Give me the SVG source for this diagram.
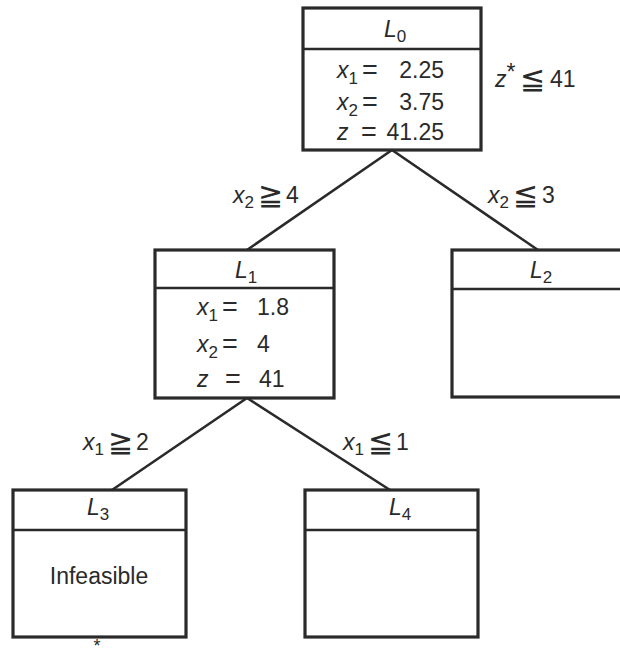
<svg xmlns="http://www.w3.org/2000/svg" width="620" height="656" viewBox="0 0 620 656">
<style>
.box{fill:none;stroke:#2a2a2a;stroke-width:3.2}
.div{stroke:#2a2a2a;stroke-width:2.4}
.edge{stroke:#2a2a2a;stroke-width:2.6;fill:none}
text{font-family:"Liberation Sans","DejaVu Sans",sans-serif;font-size:23px;fill:#2a2a2a}
.v{font-style:italic}
.s{font-size:17px;font-style:normal}
.eq{font-size:27px}
.sym{font-family:"DejaVu Sans",sans-serif;font-size:30px}
.c{text-anchor:middle}
.e{text-anchor:end}
</style>
<rect width="620" height="656" fill="#fff"/>
<g id="connectors">
<path class="edge" d="M392,150 L247,250 M392,150 L538,250"/>
<path class="edge" d="M247,398 L112,490 M247,398 L390,490"/>
</g>
<g id="L0">
<rect class="box" x="303" y="8" width="178" height="142"/>
<line class="div" x1="303" y1="49" x2="481" y2="49"/>
<text x="384" y="37" class="v">L<tspan class="s" dy="5">0</tspan></text>
<text x="337" y="78" class="v">x<tspan class="s" dy="6">1</tspan></text>
<text x="362" y="79" class="eq">=</text>
<text x="444" y="78" class="e">2.25</text>
<text x="337" y="110" class="v">x<tspan class="s" dy="6">2</tspan></text>
<text x="362" y="111" class="eq">=</text>
<text x="444" y="110" class="e">3.75</text>
<text x="337" y="140" class="v">z</text>
<text x="361" y="141" class="eq">=</text>
<text x="444" y="140" class="e">41.25</text>
</g>
<g id="bound">
<text x="495" y="87" class="v">z<tspan style="font-style:normal" dy="-7">*</tspan></text>
<text x="520" y="89" class="sym">≦</text>
<text x="550" y="87">41</text>
</g>
<g id="L1">
<rect class="box" x="155" y="250" width="179" height="148"/>
<line class="div" x1="155" y1="288" x2="334" y2="288"/>
<text x="235" y="278" class="v">L<tspan class="s" dy="5">1</tspan></text>
<text x="197" y="315" class="v">x<tspan class="s" dy="6">1</tspan></text>
<text x="222" y="316" class="eq">=</text>
<text x="257" y="315">1.8</text>
<text x="197" y="352" class="v">x<tspan class="s" dy="6">2</tspan></text>
<text x="222" y="353" class="eq">=</text>
<text x="257" y="352">4</text>
<text x="197" y="387" class="v">z</text>
<text x="225" y="388" class="eq">=</text>
<text x="259" y="387">41</text>
</g>
<g id="L2">
<rect class="box" x="452" y="250" width="179" height="147"/>
<line class="div" x1="452" y1="289" x2="631" y2="289"/>
<text x="530" y="278" class="v">L<tspan class="s" dy="5">2</tspan></text>
</g>
<g id="L3">
<rect class="box" x="13" y="490" width="173" height="147"/>
<line class="div" x1="13" y1="530" x2="186" y2="530"/>
<text x="87" y="515" class="v">L<tspan class="s" dy="5">3</tspan></text>
<text x="99" y="584" class="c">Infeasible</text>
<text x="97" y="652" class="c" style="font-size:18px">*</text>
</g>
<g id="L4">
<rect class="box" x="305" y="490" width="173" height="147"/>
<line class="div" x1="305" y1="530" x2="478" y2="530"/>
<text x="389" y="515" class="v">L<tspan class="s" dy="5">4</tspan></text>
</g>
<g id="labels">
<text x="233" y="203" class="v">x<tspan class="s" dy="5">2</tspan></text>
<text x="258" y="205" class="sym">≧</text>
<text x="286" y="203">4</text>
<text x="488" y="203" class="v">x<tspan class="s" dy="5">2</tspan></text>
<text x="513" y="205" class="sym">≦</text>
<text x="542" y="203">3</text>
<text x="83" y="450" class="v">x<tspan class="s" dy="5">1</tspan></text>
<text x="108" y="452" class="sym">≧</text>
<text x="136" y="450">2</text>
<text x="343" y="450" class="v">x<tspan class="s" dy="5">1</tspan></text>
<text x="368" y="452" class="sym">≦</text>
<text x="396" y="450">1</text>
</g>
</svg>
